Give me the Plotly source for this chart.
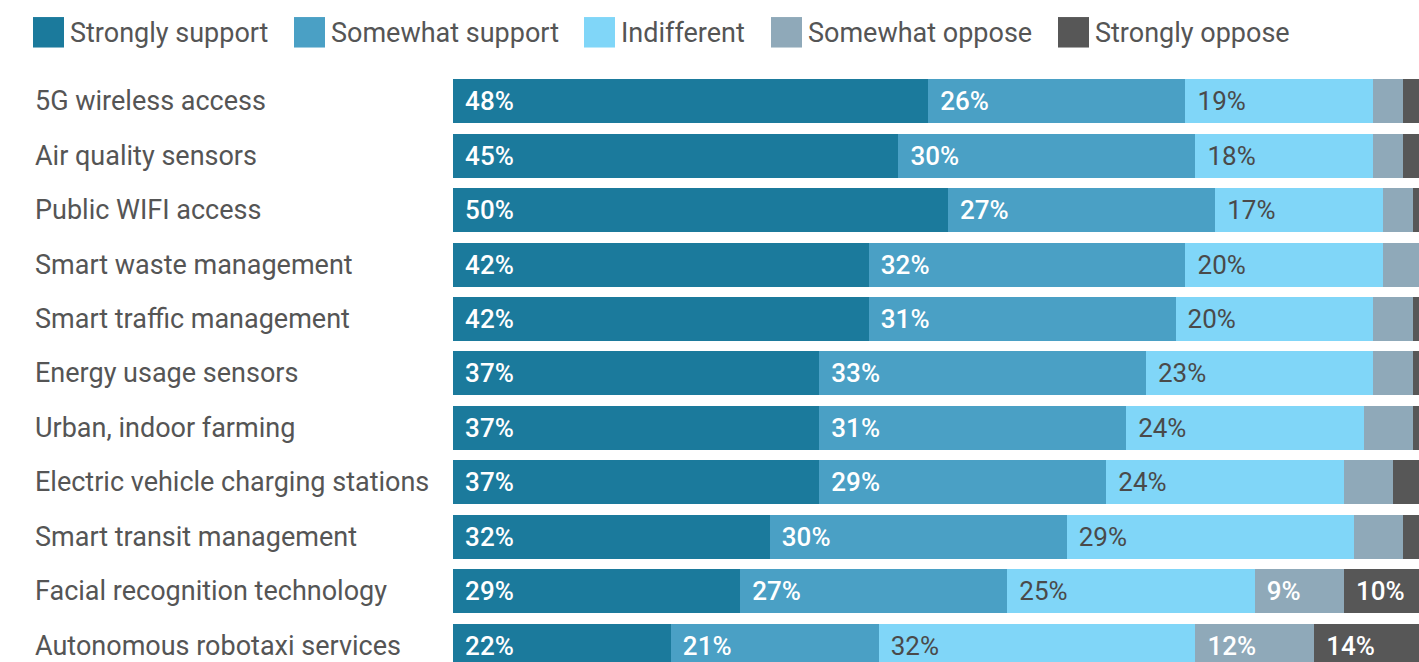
import plotly.graph_objects as go

categories = [
    "5G wireless access",
    "Air quality sensors",
    "Public WIFI access",
    "Smart waste management",
    "Smart traffic management",
    "Energy usage sensors",
    "Urban, indoor farming",
    "Electric vehicle charging stations",
    "Smart transit management",
    "Facial recognition technology",
    "Autonomous robotaxi services",
]
series_names = ["Strongly support", "Somewhat support", "Indifferent", "Somewhat oppose", "Strongly oppose"]
strongly_support = [48, 45, 50, 42, 42, 37, 37, 37, 32, 29, 22]
somewhat_support = [26, 30, 27, 32, 31, 33, 31, 29, 30, 27, 21]
indifferent = [19, 18, 17, 20, 20, 23, 24, 24, 29, 25, 32]
somewhat_oppose = [3, 3, 3, 4, 4, 4, 5, 5, 5, 9, 12]
strongly_oppose = [4, 4, 3, 2, 3, 3, 3, 5, 4, 10, 14]

series_values = [strongly_support, somewhat_support, indifferent, somewhat_oppose, strongly_oppose]
colors = ["#1b7a9c", "#4aa0c5", "#80d6f8", "#8fa9b9", "#575757"]
text_colors = ["#ffffff", "#ffffff", "#4a4a4a", "#ffffff", "#ffffff"]
text_weights = [500, 500, 400, 500, 500]
label_min = 9  # smaller segments carry no label

FIG_W, FIG_H = 1419, 662
L, R, T, B = 453, 0, 73.5, 0
PW, PH = FIG_W - L - R, FIG_H - T - B

def px_x(x):
    return (x - L) / PW

def px_y(y):
    return (FIG_H - B - y) / PH

fig = go.Figure()
for name, vals, col, tcol, tw in zip(series_names, series_values, colors, text_colors, text_weights):
    fig.add_trace(go.Bar(
        y=categories, x=vals, name=name, orientation="h",
        marker=dict(color=col, line=dict(width=0)),
        text=["\u00a0\u200a%d%%" % v if v >= label_min else "" for v in vals],
        textposition="inside", insidetextanchor="start", textangle=0,
        insidetextfont=dict(family="Roboto", size=26, color=tcol, weight=tw),
        constraintext="none",
        hoverinfo="skip",
    ))

# row labels (left aligned)
for c in categories:
    fig.add_annotation(x=px_x(33), xref="paper", y=c, yref="y", text=c,
                       showarrow=False, xanchor="left", yanchor="middle",
                       font=dict(family="Roboto", size=27, color="#555555"))

# custom legend
legend_x = [33, 294, 584, 771, 1058]
for nm, col, lx in zip(series_names, colors, legend_x):
    fig.add_shape(type="rect", xref="paper", yref="paper",
                  x0=px_x(lx), x1=px_x(lx + 31), y0=px_y(47), y1=px_y(16.5),
                  fillcolor=col, line=dict(width=0))
    fig.add_annotation(x=px_x(lx + 35), xref="paper", y=px_y(32), yref="paper", text=nm,
                       showarrow=False, xanchor="left", yanchor="middle",
                       font=dict(family="Roboto", size=27, color="#555555"))

fig.update_layout(
    width=FIG_W, height=FIG_H,
    barmode="stack", bargap=0.19,
    showlegend=False,
    plot_bgcolor="white", paper_bgcolor="white",
    margin=dict(l=L, r=R, t=T, b=B, autoexpand=False),
    xaxis=dict(range=[0, 97.6], visible=False, fixedrange=True),
    yaxis=dict(categoryorder="array", categoryarray=categories, range=[10.3, -0.5],
               visible=False, fixedrange=True),
    font=dict(family="Roboto"),
)
fig.write_html("out.html")
